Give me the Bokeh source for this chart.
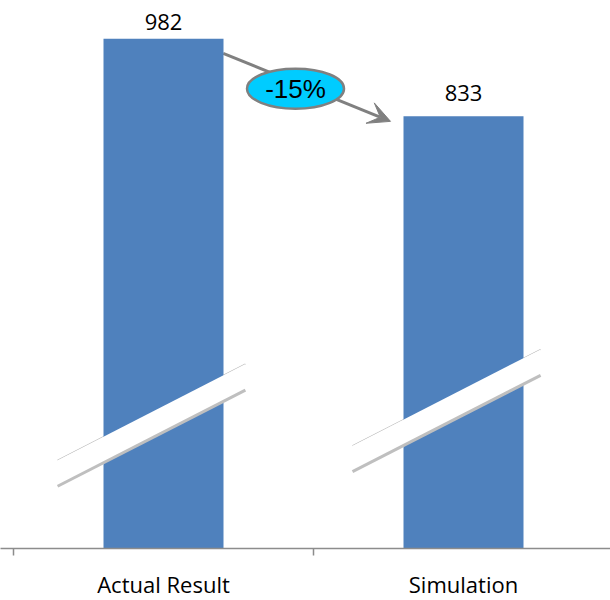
from bokeh.plotting import figure
from bokeh.models import Range1d, FixedTicker, Arrow, VeeHead, LinearAxis, CustomJSTickFormatter, ColumnDataSource
from bokeh.core.properties import value
from bokeh.embed import file_html
from bokeh.resources import INLINE

# ---- data ----
categories = ["Actual Result", "Simulation"]
values = [982, 833]

# ---- layout constants ----
PX_X = 300.0          # px per category
PX_Y = 0.519          # px per unit
W = 610
FRAME_H = 548
x0 = -13 / PX_X
y_end = FRAME_H / PX_Y
label_offsets = [-17, -23]

centers = [i + 0.5 for i in range(len(categories))]
change = (values[1] - values[0]) / values[0]
pct_text = f"{round(change * 100):d}%"

p = figure(frame_width=W, frame_height=FRAME_H,
           x_range=Range1d(x0, x0 + W / PX_X), y_range=Range1d(0, y_end),
           output_backend="svg", toolbar_location=None,
           x_axis_location=None, y_axis_location=None, min_border=0)
p.outline_line_color = None
p.xgrid.visible = False
p.ygrid.visible = False
p.background_fill_color = "white"
p.border_fill_color = "white"

# axis break marks (decoration) relative to each bar
brk_dx0 = [-0.353, -0.37]
brk_dx1 = [0.273, 0.257]
brk_lo = [120, 148]
slope = 296.0
thick = 50.0
up_xs, up_ys, lo_xs, lo_ys, band_xs, band_ys = [], [], [], [], [], []
for c, d0, d1, lo in zip(centers, brk_dx0, brk_dx1, brk_lo):
    xa, xb = c + d0, c + d1
    la, lb = lo, lo + slope * (d1 - d0)
    up_xs.append([xa, xb]); up_ys.append([la + thick, lb + thick])
    lo_xs.append([xa, xb]); lo_ys.append([la, lb])
    band_xs.append([xa, xb, xb, xa]); band_ys.append([la, lb, lb + thick, la + thick])

p.multi_line(up_xs, up_ys, line_color="#b8b8b8", line_width=1.2)

# arrow (under)
arrow = Arrow(x_start=0.699, y_start=954, x_end=1.2567, y_end=823,
              line_color="#808080", line_width=3,
              end=VeeHead(size=22, fill_color="#808080", line_color="#808080"),
              level="underlay")
p.add_layout(arrow)

p.vbar(x=centers, top=values, width=0.4, bottom=0, fill_color="#4F81BD", line_color=None)

p.patches(band_xs, band_ys, fill_color="white", line_color=None)
p.multi_line(lo_xs, lo_ys, line_color="#bfbfbf", line_width=3)

lab_src = ColumnDataSource(dict(x=centers, y=values, t=[str(v) for v in values], off=label_offsets))
p.text(x="x", y="y", text="t", y_offset="off", source=lab_src,
       text_align="center", text_baseline="alphabetic",
       text_font=value("Open Sans"), text_font_size="22px", text_color="black")

# change bubble
p.ellipse(x=[0.94], y=[886], width=97, height=40, width_units="screen", height_units="screen",
          fill_color="#00CCFF", line_color="#808080", line_width=2.5)
p.text(x=[0.94], y=[886], text=[pct_text], text_align="center", text_baseline="middle",
       text_font=value("Liberation Sans"), text_font_size="26px", text_color="black")

ax = LinearAxis(ticker=FixedTicker(ticks=centers, minor_ticks=list(range(len(categories) + 1))),
                formatter=CustomJSTickFormatter(args=dict(labels=categories),
                                                code="return labels[Math.floor(tick)] || '';"))
ax.axis_line_color = "#8c8c8c"
ax.axis_line_width = 1.5
ax.major_tick_line_color = None
ax.major_tick_out = 0
ax.major_tick_in = 0
ax.minor_tick_line_color = "#8c8c8c"
ax.minor_tick_line_width = 1.5
ax.minor_tick_out = 7
ax.minor_tick_in = 0
ax.major_label_standoff = 13
ax.major_label_text_font = "Open Sans"
ax.major_label_text_font_size = "22px"
ax.major_label_text_color = "black"
p.add_layout(ax, "below")

open("out.html", "w").write(file_html(p, INLINE))
